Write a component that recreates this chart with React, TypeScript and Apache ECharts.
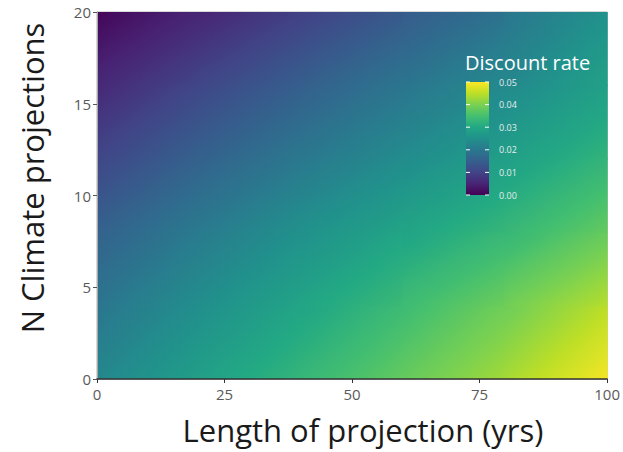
import React, { useEffect, useRef } from "react";
import * as echarts from "echarts";

// Grid nodes (x = length of projection, y = N climate projections)
const xNodes = [0, 20, 40, 60, 80, 100];
const yNodes = [0, 4, 8, 12, 16, 20];
// Discount rate; rows follow yNodes (bottom to top), columns follow xNodes
const rateY0 = [0.023, 0.028, 0.033, 0.038, 0.043, 0.0495];
const rateY4 = [0.0195, 0.0245, 0.029, 0.034, 0.039, 0.0445];
const rateY8 = [0.0155, 0.0205, 0.025, 0.029, 0.033, 0.038];
const rateY12 = [0.0105, 0.0155, 0.02, 0.024, 0.028, 0.0325];
const rateY16 = [0.0055, 0.0105, 0.015, 0.0195, 0.0235, 0.028];
const rateY20 = [0.001, 0.005, 0.0095, 0.014, 0.019, 0.0255];
const rateRows = [rateY0, rateY4, rateY8, rateY12, rateY16, rateY20];

const xTicks = [0, 25, 50, 75, 100];
const yTicks = [0, 5, 10, 15, 20];
const legendTicks = [0.0, 0.01, 0.02, 0.03, 0.04, 0.05];
const rateMin = 0;
const rateMax = 0.05;

const viridis = [
  "#440154", "#482475", "#414487", "#355f8d", "#2a788e", "#21918c",
  "#22a884", "#44bf70", "#7ad151", "#bddf26", "#fde725",
];

function hexToRgb(h: string) {
  const n = parseInt(h.slice(1), 16);
  return [(n >> 16) & 255, (n >> 8) & 255, n & 255];
}
const viridisRgb = viridis.map(hexToRgb);

function colorAt(v: number) {
  let t = (v - rateMin) / (rateMax - rateMin);
  t = Math.max(0, Math.min(1, t));
  const p = t * (viridisRgb.length - 1);
  const i = Math.min(viridisRgb.length - 2, Math.floor(p));
  const f = p - i;
  const a = viridisRgb[i], b = viridisRgb[i + 1];
  const c = a.map((av, k) => Math.round(av + (b[k] - av) * f));
  return `rgb(${c[0]},${c[1]},${c[2]})`;
}

const FONT = "'Open Sans', 'Liberation Sans', sans-serif";

export default function App() {
  const ref = useRef<HTMLDivElement>(null);
  useEffect(() => {
    if (!ref.current) return;
    const chart = echarts.init(ref.current, null, { renderer: "svg" });

    const cells: number[][] = [];
    for (let j = 0; j < yNodes.length - 1; j++) {
      for (let i = 0; i < xNodes.length - 1; i++) {
        cells.push([xNodes[i], yNodes[j], i, j]);
      }
    }

    const renderItem = (params: any, api: any) => {
      const i = api.value(2);
      const j = api.value(3);
      const p00 = api.coord([xNodes[i], yNodes[j]]);
      const p11 = api.coord([xNodes[i + 1], yNodes[j + 1]]);
      const v00 = rateRows[j][i];
      const v10 = rateRows[j][i + 1];
      const v01 = rateRows[j + 1][i];
      const v11 = rateRows[j + 1][i + 1];
      const left = p00[0], right = p11[0];
      const bottom = p00[1], top = p11[1];
      const w = right - left, h = bottom - top;
      const fx = ((v10 - v00) + (v11 - v01)) / 2 / w;
      const fy = -((v01 - v00) + (v11 - v10)) / 2 / h;
      const vc = (v00 + v10 + v01 + v11) / 4;
      const cx = (left + right) / 2, cy = (top + bottom) / 2;
      const gm = Math.hypot(fx, fy) || 1e-12;
      const ux = fx / gm, uy = fy / gm;
      const L = (Math.abs(ux) * w + Math.abs(uy) * h) / 2 + 1;
      const vs = vc - gm * L, ve = vc + gm * L;
      const stops = [];
      const n = 10;
      for (let k = 0; k <= n; k++) {
        const t = k / n;
        stops.push({ offset: t, color: colorAt(vs + (ve - vs) * t) });
      }
      return {
        type: "rect",
        shape: { x: left - 0.6, y: top - 0.6, width: w + 1.2, height: h + 1.2 },
        style: {
          fill: {
            type: "linear",
            x: cx - ux * L,
            y: cy - uy * L,
            x2: cx + ux * L,
            y2: cy + uy * L,
            colorStops: stops,
            global: true,
          },
          stroke: null,
        },
      };
    };

    // legend geometry
    const barX = 466, barTop = 82, barH = 113, barW = 23;
    const legendY = (v: number) => barTop + barH - ((v - rateMin) / (rateMax - rateMin)) * barH;
    const barStops = viridis.map((c, k) => ({ offset: 1 - k / (viridis.length - 1), color: c }));

    const graphic: any[] = [
      {
        type: "rect",
        shape: { x: barX, y: barTop, width: barW, height: barH },
        style: {
          fill: { type: "linear", x: 0, y: 0, x2: 0, y2: 1, colorStops: barStops.reverse() },
        },
        z: 10,
      },
      {
        type: "text",
        x: 465,
        y: 62,
        style: {
          text: "Discount rate",
          fill: "#ffffff",
          font: `20px ${FONT}`,
          textVerticalAlign: "middle",
        },
        z: 10,
      },
      {
        type: "text",
        x: 363,
        y: 430,
        style: {
          text: "Length of projection (yrs)",
          fill: "#1a1a1a",
          font: `31px ${FONT}`,
          textAlign: "center",
          textVerticalAlign: "middle",
        },
      },
      {
        type: "text",
        x: 32,
        y: 178,
        rotation: Math.PI / 2,
        style: {
          text: "N Climate projections",
          fill: "#1a1a1a",
          font: `31px ${FONT}`,
          textAlign: "center",
          textVerticalAlign: "middle",
        },
      },
    ];
    legendTicks.forEach((v) => {
      const y = legendY(v);
      graphic.push(
        { type: "line", shape: { x1: barX, y1: y, x2: barX + 4, y2: y }, style: { stroke: "#ffffff", lineWidth: 1 }, z: 11 },
        { type: "line", shape: { x1: barX + barW - 4, y1: y, x2: barX + barW, y2: y }, style: { stroke: "#ffffff", lineWidth: 1 }, z: 11 },
        {
          type: "text",
          x: 499,
          y,
          style: { text: v.toFixed(2), fill: "#e6eeee", font: `9px ${FONT}`, textVerticalAlign: "middle" },
          z: 11,
        }
      );
    });

    chart.setOption({
      animation: false,
      grid: { left: 97, right: 14, top: 12, bottom: 73, show: true, borderColor: "#b0b0b0", borderWidth: 1 },
      xAxis: {
        type: "value",
        min: xTicks[0],
        max: xTicks[xTicks.length - 1],
        interval: 25,
        axisLine: { show: true, onZero: false, lineStyle: { color: "#333333", width: 1.5 } },
        axisTick: { show: true, length: 4, lineStyle: { color: "#333333" } },
        axisLabel: { color: "#5a5a5a", fontSize: 15, fontFamily: FONT, margin: 7 },
        splitLine: { show: false },
        z: 5,
      },
      yAxis: {
        type: "value",
        min: yTicks[0],
        max: yTicks[yTicks.length - 1],
        interval: 5,
        axisLine: { show: true, onZero: false, lineStyle: { color: "#a8a8a8", width: 1 } },
        axisTick: { show: true, length: 4, lineStyle: { color: "#555555" } },
        axisLabel: { color: "#5a5a5a", fontSize: 15, fontFamily: FONT, margin: 6 },
        splitLine: { show: false },
        z: 5,
      },
      series: [
        {
          type: "custom",
          renderItem,
          data: cells,
          encode: { x: 0, y: 1 },
          clip: true,
          silent: true,
        },
      ],
      graphic,
    });
    return () => chart.dispose();
  }, []);
  return (
    <div
      ref={ref}
      style={{ position: "fixed", left: 0, top: 0, width: 623, height: 452, background: "#ffffff" }}
    />
  );
}
